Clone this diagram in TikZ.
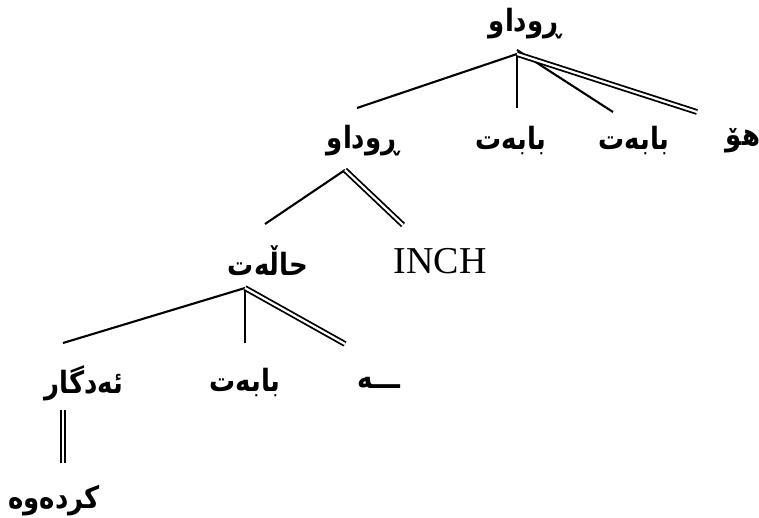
\documentclass[tikz,border=0pt]{standalone}
\usepackage{fontspec}
\usepackage{graphicx}
\setmainfont{Liberation Serif}
\newfontfamily\arabicfont[Script=Arabic]{DejaVu Sans}
\TeXXeTstate=1
\newcommand{\artxt}[1]{\scalebox{1}[1.18]{\beginR #1\endR}}
\begin{document}
\begin{tikzpicture}[x=1pt,y=-1pt]
\useasboundingbox[fill=white] (0,0) rectangle (759,518);
\tikzset{
  ar/.style={font=\arabicfont\bfseries\fontsize{26}{30}\selectfont, inner sep=0pt},
  lat/.style={font=\fontsize{38}{40}\selectfont, inner sep=0pt},
  ln/.style={line width=2.1pt},
  dbl/.style={line width=1.8pt, double, double distance=2.2pt}
}
% labels
\node[ar] (top) at (525,24) {\artxt{ڕوداو}};
\node[ar] (r1) at (363,141) {\artxt{ڕوداو}};
\node[ar] (b1) at (511,141) {\artxt{بابەت}};
\node[ar] (b2) at (634,141) {\artxt{بابەت}};
\node[ar] (ho) at (743,141) {\artxt{هۆ}};
\node[ar] (hal) at (268,261) {\artxt{حاڵەت}};
\node[lat] (inch) at (440,261) {INCH};
\node[ar] (e) at (379,383) {\artxt{ـــە}};
\node[ar] (b3) at (245,383) {\artxt{بابەت}};
\node[ar] (ed) at (84,383) {\artxt{ئەدگار}};
\node[ar] (kr) at (54,501) {\artxt{کردەوە}};
% apex and end points
\coordinate (a0) at (517,54);
\coordinate (e1) at (357,108);
\coordinate (e2) at (517,108);
\coordinate (e3) at (613,112);
\coordinate (e4) at (697,112);
\coordinate (a1) at (345,170);
\coordinate (f1) at (265,224);
\coordinate (f2) at (403,225);
\coordinate (a2) at (245,288);
\coordinate (g1) at (63,343);
\coordinate (g2) at (245,343);
\coordinate (g3) at (345,344);
\coordinate (h1) at (63,410);
\coordinate (h2) at (63,463);
% connectors
\draw[ln] (a0) -- (e1);
\draw[ln] (a0) -- (e2);
\draw[ln] ([yshift=4pt]a0) -- (e3);
\draw[dbl] (a0) -- (e4);
\draw[ln] (a1) -- (f1);
\draw[dbl] (a1) -- (f2);
\draw[ln] (a2) -- (g1);
\draw[ln] (a2) -- (g2);
\draw[dbl] (a2) -- (g3);
\draw[dbl] (h1) -- (h2);
\end{tikzpicture}
\end{document}
